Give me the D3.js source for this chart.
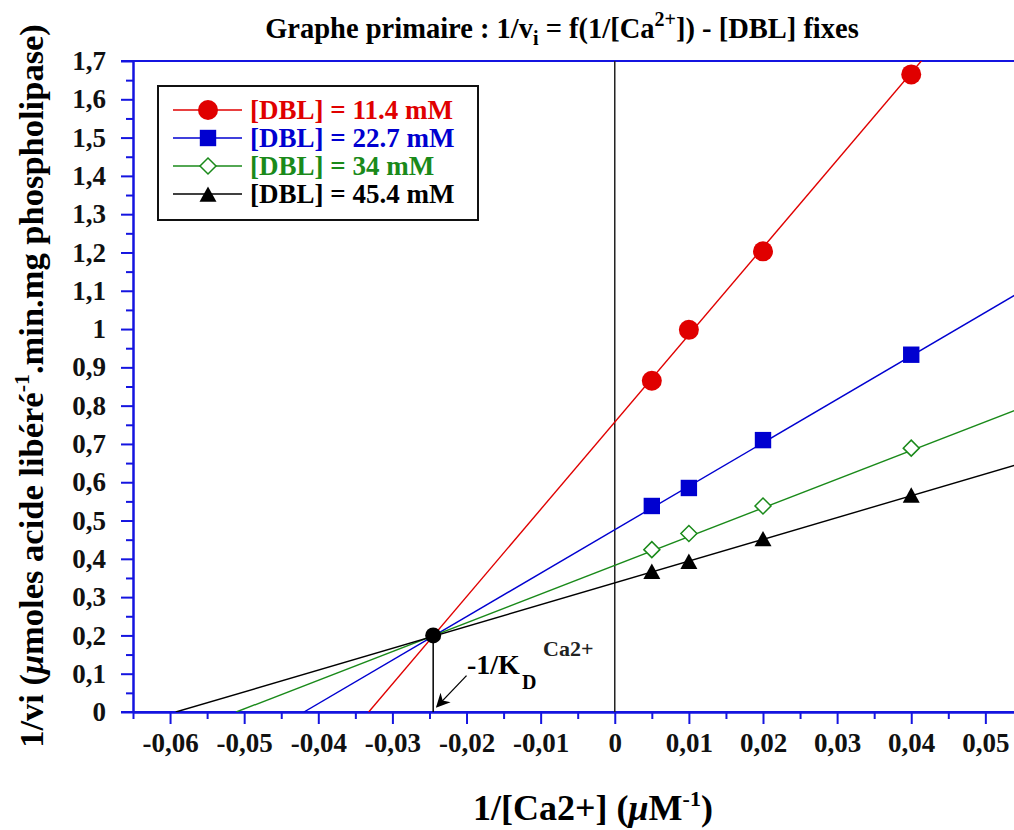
<!DOCTYPE html>
<html>
<head>
<meta charset="utf-8">
<script src="https://cdn.jsdelivr.net/npm/d3@7"></script>
<style>
  html, body { margin: 0; padding: 0; background: #fff; }
  svg { display: block; }
  text { font-family: "Liberation Serif", "Times New Roman", serif; font-weight: bold; }
</style>
</head>
<body>
<svg id="chart" width="1014" height="830"></svg>
<script>
// ---------- data ----------
const xValues = [0.005, 0.01, 0.02, 0.04];
const seriesNames = ["[DBL] = 11.4 mM", "[DBL] = 22.7 mM", "[DBL] = 34 mM", "[DBL] = 45.4 mM"];
const dbl114 = [0.865, 0.998, 1.203, 1.665];
const dbl227 = [0.538, 0.585, 0.710, 0.933];
const dbl34  = [0.424, 0.466, 0.538, 0.689];
const dbl454 = [0.368, 0.394, 0.453, 0.567];
// fitted lines: y = intercept + slope * x
const fitIntercept = [0.757, 0.476, 0.383, 0.337];
const fitSlope     = [22.8, 11.35, 7.5, 5.69];
const seriesColors = ["#e00000", "#0000d0", "#1a8a1a", "#000000"];
const seriesShapes = ["circle", "square", "diamond", "triangle"];

const xMajorTicks = [-0.06, -0.05, -0.04, -0.03, -0.02, -0.01, 0, 0.01, 0.02, 0.03, 0.04, 0.05];
const xTickLabels = ["-0,06", "-0,05", "-0,04", "-0,03", "-0,02", "-0,01", "0", "0,01", "0,02", "0,03", "0,04", "0,05"];
const yMajorTicks = [0, 0.1, 0.2, 0.3, 0.4, 0.5, 0.6, 0.7, 0.8, 0.9, 1, 1.1, 1.2, 1.3, 1.4, 1.5, 1.6, 1.7];
const yTickLabels = ["0", "0,1", "0,2", "0,3", "0,4", "0,5", "0,6", "0,7", "0,8", "0,9", "1", "1,1", "1,2", "1,3", "1,4", "1,5", "1,6", "1,7"];
const xMinorTicks = [-0.065, -0.055, -0.045, -0.035, -0.025, -0.015, -0.005, 0.005, 0.015, 0.025, 0.035, 0.045];
const yMinorTicks = [0.05, 0.15, 0.25, 0.35, 0.45, 0.55, 0.65, 0.75, 0.85, 0.95, 1.05, 1.15, 1.25, 1.35, 1.45, 1.55, 1.65];

const intersectX = -0.0245, intersectY = 0.2;

// ---------- layout ----------
const svg = d3.select("#chart");
const pLeft = 133, pRight = 1015, pTop = 61, pBottom = 712;
const axisBlue = "#1414e0";

const x = d3.scaleLinear().domain([-0.065, 0.054]).range([pLeft, pRight]);
const y = d3.scaleLinear().domain([0, 1.7]).range([pBottom, pTop]);

const defs = svg.append("defs");
defs.append("clipPath").attr("id", "plotclip")
  .append("rect").attr("x", pLeft).attr("y", pTop).attr("width", 1014 - pLeft).attr("height", pBottom - pTop);

// ---------- title ----------
const title = svg.append("text").attr("x", 562).attr("y", 38).attr("text-anchor", "middle")
  .style("font-size", "28.5px").attr("fill", "#000");
title.append("tspan").text("Graphe primaire : 1/v");
title.append("tspan").attr("dy", 7).style("font-size", "20px").text("i");
title.append("tspan").attr("dy", -7).text(" = f(1/[Ca");
title.append("tspan").attr("dy", -12).style("font-size", "20px").text("2+");
title.append("tspan").attr("dy", 12).text("]) - [DBL] fixes");

// ---------- axes ----------
function styleAxis(g) {
  g.selectAll("line").attr("stroke", axisBlue).attr("stroke-width", 2);
  g.selectAll("path").attr("stroke", axisBlue).attr("stroke-width", 2);
  g.selectAll("text").attr("fill", "#111").style("font-size", "27px")
    .style("font-family", "'Liberation Serif', 'Times New Roman', serif").style("font-weight", "bold");
}

// y axis
const yAxisMajor = d3.axisLeft(y).tickValues(yMajorTicks).tickSize(12).tickSizeOuter(0).tickPadding(15)
  .tickFormat((d, i) => yTickLabels[i]);
const gy = svg.append("g").attr("transform", `translate(${pLeft},0)`).call(yAxisMajor);
styleAxis(gy);
const gyMinor = svg.append("g").attr("transform", `translate(${pLeft},0)`)
  .call(d3.axisLeft(y).tickValues(yMinorTicks).tickSize(7).tickSizeOuter(0).tickFormat(""));
styleAxis(gyMinor);

// x axis
const xAxisMajor = d3.axisBottom(x).tickValues(xMajorTicks).tickSize(12).tickSizeOuter(0).tickPadding(9)
  .tickFormat((d, i) => xTickLabels[i]);
const gx = svg.append("g").attr("transform", `translate(0,${pBottom})`).call(xAxisMajor);
styleAxis(gx);
const gxMinor = svg.append("g").attr("transform", `translate(0,${pBottom})`)
  .call(d3.axisBottom(x).tickValues(xMinorTicks).tickSize(7).tickSizeOuter(0).tickFormat(""));
styleAxis(gxMinor);

// top frame line
svg.append("line").attr("x1", pLeft - 12).attr("x2", 1014).attr("y1", y(1.7)).attr("y2", y(1.7))
  .attr("stroke", axisBlue).attr("stroke-width", 2);
// extend bottom axis to left
svg.append("line").attr("x1", pLeft - 12).attr("x2", 1014).attr("y1", y(0)).attr("y2", y(0))
  .attr("stroke", axisBlue).attr("stroke-width", 2);

// vertical zero line
svg.append("line").attr("x1", x(0)).attr("x2", x(0)).attr("y1", y(1.7)).attr("y2", y(0))
  .attr("stroke", "#222").attr("stroke-width", 1.5);

// ---------- axis titles ----------
const xt = svg.append("text").attr("x", 593).attr("y", 820).attr("text-anchor", "middle")
  .style("font-size", "36px").attr("fill", "#000");
xt.append("tspan").text("1/[Ca2+] (");
xt.append("tspan").style("font-style", "italic").text("\u03BC");
xt.append("tspan").text("M");
xt.append("tspan").attr("dy", -14).style("font-size", "22px").text("-1");
xt.append("tspan").attr("dy", 14).text(")");

const yt = svg.append("text").attr("transform", "translate(43,386) rotate(-90)")
  .attr("text-anchor", "middle").style("font-size", "34.5px").attr("fill", "#000");
yt.append("tspan").text("1/vi (");
yt.append("tspan").style("font-style", "italic").text("\u03BC");
yt.append("tspan").text("moles acide libéré");
yt.append("tspan").attr("dy", -14).style("font-size", "22px").text("-1");
yt.append("tspan").attr("dy", 14).text(".min.mg phospholipase)");

// ---------- fitted lines ----------
const plot = svg.append("g").attr("clip-path", "url(#plotclip)");
const lineGen = d3.line().x(d => x(d[0])).y(d => y(d[1]));
fitIntercept.forEach((b, i) => {
  const m = fitSlope[i];
  const x0 = -b / m;
  const x1 = 0.054;
  plot.append("path").attr("d", lineGen([[x0, 0], [x1, b + m * x1]]))
    .attr("fill", "none").attr("stroke", seriesColors[i]).attr("stroke-width", 1.4);
});

// ---------- markers ----------
function markerPath(shape, s) {
  if (shape === "square") return `M${-s},${-s}H${s}V${s}H${-s}Z`;
  if (shape === "diamond") return `M0,${-s}L${s},0L0,${s}L${-s},0Z`;
  return `M0,${-s}L${s},${s * 0.8}L${-s},${s * 0.8}Z`;
}
function drawMarker(g, shape, color, cx, cy) {
  if (shape === "circle") {
    g.append("circle").attr("cx", cx).attr("cy", cy).attr("r", 10).attr("fill", color);
  } else if (shape === "square") {
    g.append("path").attr("transform", `translate(${cx},${cy})`).attr("d", markerPath(shape, 8.2)).attr("fill", color);
  } else if (shape === "diamond") {
    g.append("path").attr("transform", `translate(${cx},${cy})`).attr("d", markerPath(shape, 8))
      .attr("fill", "#fff").attr("stroke", color).attr("stroke-width", 1.5);
  } else {
    g.append("path").attr("transform", `translate(${cx},${cy + 1})`).attr("d", markerPath(shape, 8.5)).attr("fill", color);
  }
}
const allSeries = [dbl114, dbl227, dbl34, dbl454];
allSeries.forEach((vals, i) => {
  vals.forEach((v, j) => drawMarker(svg, seriesShapes[i], seriesColors[i], x(xValues[j]), y(v)));
});

// ---------- intersection annotation ----------
svg.append("line").attr("x1", x(intersectX)).attr("x2", x(intersectX))
  .attr("y1", y(intersectY)).attr("y2", y(0)).attr("stroke", "#000").attr("stroke-width", 1.5);
svg.append("circle").attr("cx", x(intersectX)).attr("cy", y(intersectY)).attr("r", 8).attr("fill", "#000");

defs.append("marker").attr("id", "arrowhead").attr("viewBox", "0 0 10 10")
  .attr("refX", 9).attr("refY", 5).attr("markerWidth", 14).attr("markerHeight", 14)
  .attr("markerUnits", "userSpaceOnUse").attr("orient", "auto")
  .append("path").attr("d", "M0,0L10,5L0,10L3,5Z").attr("fill", "#000");
svg.append("line").attr("x1", x(-0.0200)).attr("y1", y(0.095)).attr("x2", x(-0.0240)).attr("y2", y(0.014))
  .attr("stroke", "#000").attr("stroke-width", 1.3).attr("marker-end", "url(#arrowhead)");

const ann = svg.append("g");
ann.append("text").attr("x", 467).attr("y", 674).style("font-size", "28px").text("-1/K");
ann.append("text").attr("x", 522).attr("y", 689).style("font-size", "20px").text("D");
ann.append("text").attr("x", 543).attr("y", 656).style("font-size", "22px").attr("fill", "#222").text("Ca2+");

// ---------- legend ----------
const lg = svg.append("g");
lg.append("rect").attr("x", 158).attr("y", 86).attr("width", 320).attr("height", 134)
  .attr("fill", "#fff").attr("stroke", "#111").attr("stroke-width", 2);
const rowY = [110, 138, 166, 194];
seriesNames.forEach((name, i) => {
  lg.append("line").attr("x1", 173).attr("x2", 242).attr("y1", rowY[i]).attr("y2", rowY[i])
    .attr("stroke", seriesColors[i]).attr("stroke-width", 1.4);
  drawMarker(lg, seriesShapes[i], seriesColors[i], 208, rowY[i]);
  lg.append("text").attr("x", 250).attr("y", rowY[i] + 9).style("font-size", "27px")
    .attr("fill", seriesColors[i]).text(name);
});
</script>
</body>
</html>
